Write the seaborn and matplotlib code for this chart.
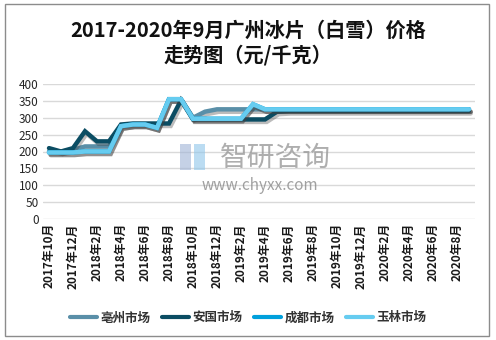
import matplotlib
matplotlib.use("Agg")
import matplotlib.pyplot as plt
import matplotlib.patheffects as pe
from matplotlib.patches import Rectangle
import seaborn as sns
import pandas as pd

months = [f"{y}年{m}月" for y, m in
          [(2017, 10), (2017, 11), (2017, 12)] +
          [(2018, m) for m in range(1, 13)] +
          [(2019, m) for m in range(1, 13)] +
          [(2020, m) for m in range(1, 10)]]

bozhou = [200, 200, 205, 215, 215, 215, 275, 280, 280, 270, 355, 355,
          300, 318, 325, 325, 325, 325, 325, 325, 325, 325, 325, 325,
          325, 325, 325, 325, 325, 325, 325, 325, 325, 325, 325, 325]
anguo = [210, 200, 210, 260, 230, 230, 280, 283, 283, 283, 283, 352,
         295, 295, 295, 295, 295, 295, 295, 318, 320, 320, 320, 320,
         320, 320, 320, 320, 320, 320, 320, 320, 320, 320, 320, 320]
chengdu = [197, 197, 197, 200, 200, 200, 275, 280, 280, 270, 355, 355,
           297, 297, 297, 297, 297, 340, 325, 325, 325, 325, 325, 325,
           325, 325, 325, 325, 325, 325, 325, 325, 325, 325, 325, 325]
yulin = [197, 197, 197, 200, 200, 200, 275, 280, 280, 270, 355, 355,
         297, 297, 297, 297, 297, 340, 325, 325, 325, 325, 325, 325,
         325, 325, 325, 325, 325, 325, 325, 325, 325, 325, 325, 325]

series_names = ["亳州市场", "安国市场", "成都市场", "玉林市场"]
series_values = [bozhou, anguo, chengdu, yulin]
colors = ["#5a8fa8", "#0b4d63", "#00a0dc", "#66ccf0"]
yticks = [0, 50, 100, 150, 200, 250, 300, 350, 400]

rows = []
for name, vals in zip(series_names, series_values):
    for i, v in enumerate(vals):
        rows.append({"idx": i, "price": v, "market": name})
df = pd.DataFrame(rows)

sns.set_theme(style="white")
plt.rcParams["font.family"] = ["Noto Sans CJK SC", "DejaVu Sans"]

fig = plt.figure(figsize=(4.96, 3.40), dpi=100)
ax = fig.add_axes([43 / 496, 1 - 219 / 340, 432 / 496, 135 / 340])

sns.lineplot(data=df, x="idx", y="price", hue="market",
             hue_order=series_names, palette=colors, linewidth=3.2,
             ax=ax, legend=False)

for line in ax.get_lines():
    line.set_solid_capstyle("round")
    line.set_solid_joinstyle("miter")
    line.set_path_effects([
        pe.SimpleLineShadow(offset=(1.2, -1.8), shadow_color="#404040", alpha=0.35),
        pe.Normal(),
    ])

ax.set_xlim(-0.5, len(months) - 0.5)
ax.set_ylim(0, 400)
ax.set_yticks(yticks)
ax.set_yticklabels([str(t) for t in yticks], fontsize=8.5, color="#262626",
                   fontweight="medium")
ax.set_xticks(range(0, len(months), 2))
ax.set_xticklabels(months[::2], rotation=90, fontsize=8.5, color="#1a1a1a",
                   fontweight="bold")
ax.tick_params(axis="both", length=0, pad=3)
ax.yaxis.grid(True, color="#d9d9d9", linewidth=1)
ax.xaxis.grid(False)
ax.set_axisbelow(True)
for s in ax.spines.values():
    s.set_visible(False)
ax.set_xlabel("")
ax.set_ylabel("")

# watermark
fig.text(0.555, 0.535, "智研咨询", fontsize=20, color="#9a9a9a", alpha=0.8,
         ha="center", va="center")
fig.text(0.525, 0.455, "www.chyxx.com", fontsize=11, color="#8a8a8a", alpha=0.8,
         ha="center", va="center")
fig.patches.append(Rectangle((180 / 496, 1 - 170 / 340), 11 / 496, 26 / 340,
                             transform=fig.transFigure, facecolor="#9fb3d6",
                             alpha=0.6, edgecolor="none"))
fig.patches.append(Rectangle((194 / 496, 1 - 170 / 340), 11 / 496, 26 / 340,
                             transform=fig.transFigure, facecolor="#8fc6ea",
                             alpha=0.6, edgecolor="none"))

# title
fig.text(0.5, 1 - 30 / 340, "2017-2020年9月广州冰片（白雪）价格",
         fontsize=14.5, fontweight="semibold", ha="center", va="center", color="#111111")
fig.text(0.5, 1 - 55 / 340, "走势图（元/千克）",
         fontsize=14.5, fontweight="semibold", ha="center", va="center", color="#111111")

# legend
handles = [plt.Line2D([0], [0], color=c, linewidth=3) for c in colors]
fig.legend(handles, series_names, loc="center", bbox_to_anchor=(0.5, 1 - 318 / 340),
           ncol=4, frameon=False, handlelength=2.2, columnspacing=0.9,
           handletextpad=0.25, labelcolor="#333333",
           prop={"size": 9, "weight": "bold"})

# outer frame
fig.patches.append(Rectangle((5 / 496, 4 / 340), 484 / 496, 332 / 340,
                             transform=fig.transFigure, fill=False,
                             edgecolor="#8c8c8c", linewidth=1))

fig.savefig("out.png", dpi=100)
